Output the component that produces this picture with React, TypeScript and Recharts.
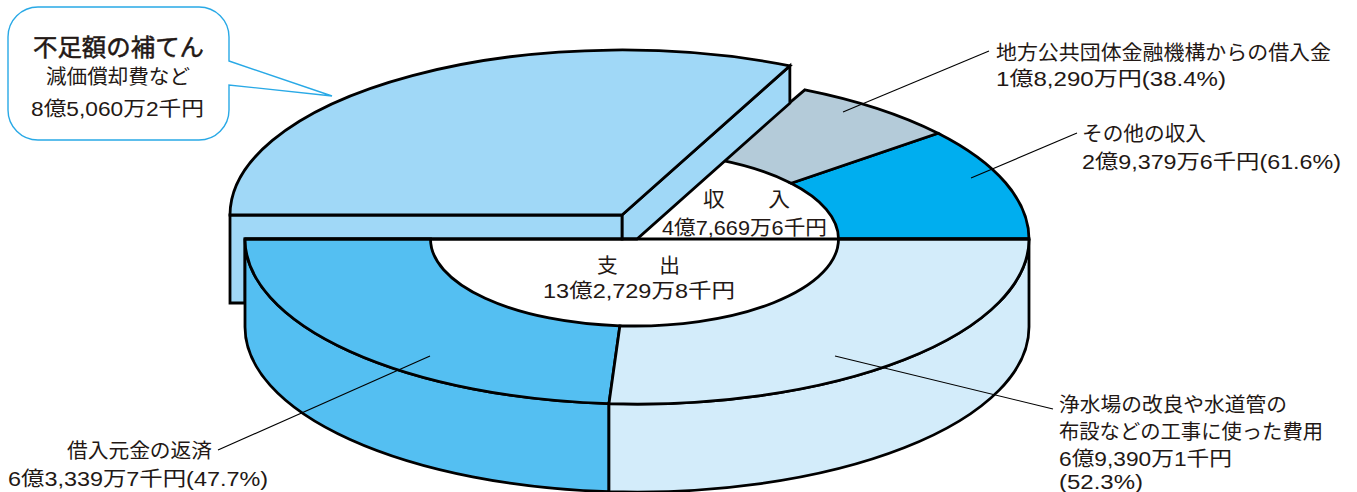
import React from "react";
import { PieChart, Pie } from "recharts";

// 万円 — counter-clockwise from 3 o'clock
const sliceNames = ["その他の収入", "地方公共団体金融機構からの借入金", "不足額の補てん", "借入元金の返済", "浄水場の改良や水道管の布設などの工事に使った費用"];
const sliceValues = [29379.6, 18290, 85060.2, 63339.7, 69390.1];
const sliceColors = ["#00AEEF", "#B4CBD9", "#A0D8F7", "#54BFF2", "#D3ECFA"];
const explodedIndex = 2;

const calloutTitle = "不足額の補てん";
const calloutLines = ["減価償却費など", "8億5,060万2千円"];
const incomeLines = ["収　　入", "4億7,669万6千円"];
const spendLines = ["支　　出", "13億2,729万8千円"];
const loanLines = ["地方公共団体金融機構からの借入金", "1億8,290万円(38.4%)"];
const otherLines = ["その他の収入", "2億9,379万6千円(61.6%)"];
const worksLines = ["浄水場の改良や水道管の", "布設などの工事に使った費用", "6億9,390万1千円", "(52.3%)"];
const repayLines = ["借入元金の返済", "6億3,339万7千円(47.7%)"];

const data = sliceNames.map((name, i) => ({ name, value: sliceValues[i], fill: sliceColors[i] }));

const W = 1357, H = 492;
const CX = 637, CY = 239, R = 392, r = 204;
const SQUASH = 0.421, INNER_SQUASH = 0.4265, INNER_OX = -2.5, DEPTH = 88;
const SHIFT_X = -15, SHIFT_Y = -24;
const INK = "#000";
const SW = 2.8;
const FONT = "'Liberation Sans', 'Noto Sans CJK JP', sans-serif";
const TEXT = "#231815";

const pt = (radius: number, deg: number, ox = 0, oy = 0, sq = SQUASH) => {
  const a = (deg * Math.PI) / 180;
  return { x: CX + ox + radius * Math.cos(a), y: CY + oy - radius * sq * Math.sin(a) };
};
const arc = (radius: number, from: number, to: number, ox = 0, oy = 0, sq = SQUASH) => {
  const e = pt(radius, to, ox, oy, sq);
  const large = Math.abs(to - from) > 180 ? 1 : 0;
  const sweep = to > from ? 0 : 1;
  return `A${radius} ${radius * sq} 0 ${large} ${sweep} ${e.x} ${e.y}`;
};

function Slice(props: any) {
  const { startAngle: a0, endAngle: a1, fill, index, innerRadius, outerRadius } = props;
  const ro = outerRadius ?? R;
  const ri = innerRadius ?? r;
  const common = { stroke: INK, strokeWidth: SW, strokeLinejoin: "miter" as const };
  const isLast = index === sliceValues.length - 1;
  if (index === explodedIndex) {
    const apexX = CX + SHIFT_X, apexY = CY + SHIFT_Y;
    const s = pt(ro, a0, SHIFT_X, SHIFT_Y);
    const e = pt(ro, a1, SHIFT_X, SHIFT_Y);
    const base = pt(ro, a0);
    const t = (s.x - CX) / (base.x - CX);
    const clipY = CY + (base.y - CY) * t;
    const rightWall = `M${apexX} ${apexY}L${s.x} ${s.y}L${s.x} ${clipY}L${CX} ${CY}L${apexX} ${CY}Z`;
    const leftWall = `M${e.x} ${e.y}L${apexX} ${apexY}L${apexX} ${CY}L${CX - ro} ${CY}L${CX - ro} ${e.y + DEPTH}L${e.x} ${e.y + DEPTH}Z`;
    const top = `M${apexX} ${apexY}L${s.x} ${s.y}${arc(ro, a0, a1, SHIFT_X, SHIFT_Y)}Z`;
    return (
      <g>
        <path d={rightWall} fill={fill} {...common} />
        <path d={leftWall} fill={fill} {...common} />
        <path d={top} fill={fill} {...common} />
      </g>
    );
  }
  const os = pt(ro, a0), oe = pt(ro, a1);
  const is = pt(ri, a0, INNER_OX, 0, INNER_SQUASH), ie = pt(ri, a1, INNER_OX, 0, INNER_SQUASH);
  const top = `M${is.x} ${is.y}L${os.x} ${os.y}${arc(ro, a0, a1)}L${ie.x} ${ie.y}${arc(ri, a1, a0, INNER_OX, 0, INNER_SQUASH)}Z`;
  const front = a0 >= 180;
  const wall = front
    ? `M${os.x} ${os.y}${arc(ro, a0, a1)}L${oe.x} ${oe.y + DEPTH}${arc(ro, a1, a0, 0, DEPTH)}Z`
    : null;
  return (
    <g>
      {wall && <path d={wall} fill={fill} {...common} />}
      <path d={top} fill={fill} {...common} />
      {isLast && <Overlay />}
    </g>
  );
}

const Label = ({ x, y, w, size = 20, heavy = false, children }: any) => (
  <text
    x={x}
    y={y}
    textAnchor="start"
    dominantBaseline="central"
    fontFamily={FONT}
    fontSize={size}
    fill={TEXT}
    stroke={heavy ? TEXT : "none"}
    strokeWidth={heavy ? 0.5 : 0}
    textLength={w}
    lengthAdjust="spacingAndGlyphs"
  >
    {children}
  </text>
);

const Leader = ({ x1, y1, x2, y2 }: any) => <line x1={x1} y1={y1} x2={x2} y2={y2} stroke="#000" strokeWidth={1.1} />;

function Overlay() {
  return (
    <g>
      <line x1={CX - R} y1={CY} x2={CX + R} y2={CY} stroke={INK} strokeWidth={SW} />
      <Leader x1={843} y1={112} x2={989} y2={51} />
      <Leader x1={971} y1={178} x2={1077} y2={133} />
      <Leader x1={835} y1={356} x2={1053} y2={409} />
      <Leader x1={430} y1={356} x2={218} y2={450} />
      <path
        d="M229 61L332 96L229 85L229 110A30 30 0 0 1 199 140L38 140A30 30 0 0 1 8 110L8 37A30 30 0 0 1 38 7L199 7A30 30 0 0 1 229 37Z"
        fill="#fff"
        stroke="#29A9E6"
        strokeWidth={1.4}
      />
      <Label x={33} y={47} w={171} size={24} heavy>{calloutTitle}</Label>
      <Label x={46} y={77} w={144}>{calloutLines[0]}</Label>
      <Label x={31} y={109} w={173}>{calloutLines[1]}</Label>

      <Label x={703} y={199.5} w={87}>{incomeLines[0]}</Label>
      <Label x={662} y={228} w={165}>{incomeLines[1]}</Label>
      <Label x={597} y={265.5} w={83}>{spendLines[0]}</Label>
      <Label x={543} y={291} w={192}>{spendLines[1]}</Label>

      <Label x={996} y={52.5} w={335}>{loanLines[0]}</Label>
      <Label x={996} y={78.5} w={230}>{loanLines[1]}</Label>
      <Label x={1082} y={134} w={124}>{otherLines[0]}</Label>
      <Label x={1082} y={162} w={259}>{otherLines[1]}</Label>
      <Label x={1059} y={405} w={228}>{worksLines[0]}</Label>
      <Label x={1059} y={432} w={264}>{worksLines[1]}</Label>
      <Label x={1059} y={459} w={173}>{worksLines[2]}</Label>
      <Label x={1059} y={481.5} w={84}>{worksLines[3]}</Label>
      <Label x={67} y={451} w={145}>{repayLines[0]}</Label>
      <Label x={8} y={479} w={260}>{repayLines[1]}</Label>
    </g>
  );
}

export default function App() {
  return (
    <div style={{ position: "absolute", left: 0, top: 0, width: W, height: H, overflow: "hidden", background: "#fff" }}>
      <PieChart width={W} height={H} margin={{ top: 0, right: 0, bottom: 0, left: 0 }}>
        <Pie
          data={data}
          dataKey="value"
          nameKey="name"
          cx={CX}
          cy={CY}
          innerRadius={r}
          outerRadius={R}
          startAngle={0}
          endAngle={360}
          paddingAngle={0}
          stroke="none"
          isAnimationActive={false}
          shape={Slice}
          label={false}
          labelLine={false}
        />
      </PieChart>
    </div>
  );
}
